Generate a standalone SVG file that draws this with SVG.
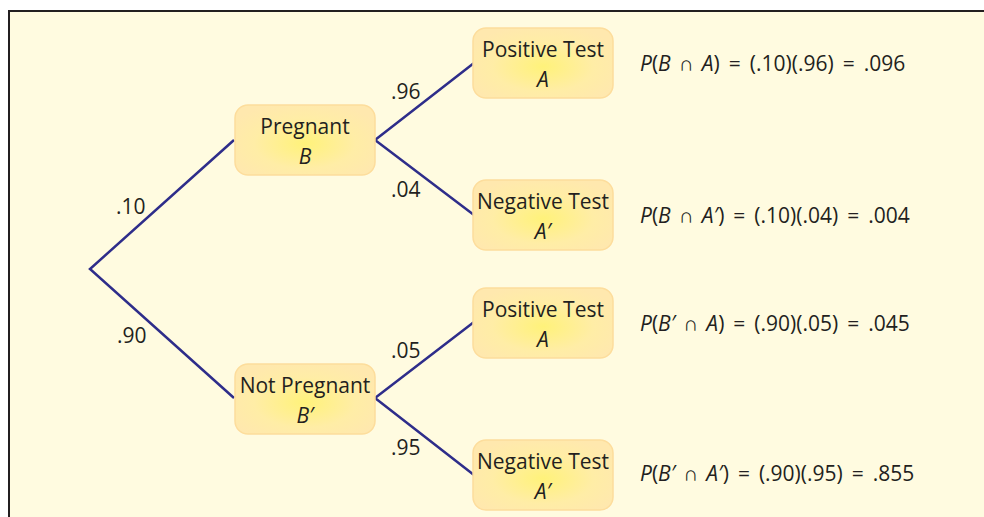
<svg xmlns="http://www.w3.org/2000/svg" width="984" height="517" viewBox="0 0 984 517">
<defs>
<radialGradient id="g" cx="0.5" cy="0.55" r="0.6">
<stop offset="0" stop-color="#FFF27A"/>
<stop offset="0.6" stop-color="#FFEDA6"/>
<stop offset="1" stop-color="#FFE8AE"/>
</radialGradient>
<style>
.box{fill:url(#g);stroke:#FDDD9C;stroke-width:1.5}
.t{font-family:"Open Sans","Noto Sans",sans-serif;font-size:21px;fill:#231F20;text-anchor:middle}
.i{font-style:italic}
.eq{font-family:"Open Sans","Noto Sans",sans-serif;font-size:21px;fill:#231F20}
.lbl{font-family:"Open Sans","Noto Sans",sans-serif;font-size:21px;fill:#231F20}
.c{stroke:#2E2D8A;stroke-width:2.5;fill:none}
</style>
</defs>
<rect x="0" y="0" width="984" height="517" fill="#FFFFFF"/>
<rect x="9" y="11" width="990" height="520" fill="#FFFBE0" stroke="#231F20" stroke-width="2"/>
<g id="connectors">
<polyline class="c" points="234,140 90,269 234,398"/>
<polyline class="c" points="474,63 375,140 474,215"/>
<polyline class="c" points="474,322 375,398 474,475"/>
<text class="lbl" x="116" y="214">.10</text>
<text class="lbl" x="117" y="343">.90</text>
<text class="lbl" x="391" y="99">.96</text>
<text class="lbl" x="391" y="197">.04</text>
<text class="lbl" x="391" y="358">.05</text>
<text class="lbl" x="391" y="455">.95</text>
</g>
<g id="pregnant">
<rect class="box" x="235" y="105" width="140" height="70" rx="13"/>
<text class="t" x="305" y="134">Pregnant</text>
<text class="t i" x="305" y="164">B</text>
</g>
<g id="notpregnant">
<rect class="box" x="235" y="364" width="140" height="70" rx="13"/>
<text class="t" x="305" y="393">Not Pregnant</text>
<text class="t i" x="305" y="423">B′</text>
</g>
<g id="pos1">
<rect class="box" x="473" y="28" width="140" height="70" rx="13"/>
<text class="t" x="543" y="57">Positive Test</text>
<text class="t i" x="543" y="87">A</text>
</g>
<g id="neg1">
<rect class="box" x="473" y="180" width="140" height="70" rx="13"/>
<text class="t" x="543" y="209">Negative Test</text>
<text class="t i" x="543" y="239">A′</text>
</g>
<g id="pos2">
<rect class="box" x="473" y="288" width="140" height="70" rx="13"/>
<text class="t" x="543" y="317">Positive Test</text>
<text class="t i" x="543" y="347">A</text>
</g>
<g id="neg2">
<rect class="box" x="473" y="440" width="140" height="70" rx="13"/>
<text class="t" x="543" y="469">Negative Test</text>
<text class="t i" x="543" y="499">A′</text>
</g>
<g id="equations">
<text class="eq" x="640" y="71"><tspan class="i">P</tspan>(<tspan class="i">B</tspan><tspan dx="8">∩</tspan><tspan dx="8" class="i">A</tspan>)<tspan dx="9">=</tspan><tspan dx="9">(.10)(.96)</tspan><tspan dx="9">=</tspan><tspan dx="9">.096</tspan></text>
<text class="eq" x="640" y="223"><tspan class="i">P</tspan>(<tspan class="i">B</tspan><tspan dx="8">∩</tspan><tspan dx="8" class="i">A′</tspan>)<tspan dx="9">=</tspan><tspan dx="9">(.10)(.04)</tspan><tspan dx="9">=</tspan><tspan dx="9">.004</tspan></text>
<text class="eq" x="640" y="331"><tspan class="i">P</tspan>(<tspan class="i">B′</tspan><tspan dx="8">∩</tspan><tspan dx="8" class="i">A</tspan>)<tspan dx="9">=</tspan><tspan dx="9">(.90)(.05)</tspan><tspan dx="9">=</tspan><tspan dx="9">.045</tspan></text>
<text class="eq" x="640" y="481"><tspan class="i">P</tspan>(<tspan class="i">B′</tspan><tspan dx="8">∩</tspan><tspan dx="8" class="i">A′</tspan>)<tspan dx="9">=</tspan><tspan dx="9">(.90)(.95)</tspan><tspan dx="9">=</tspan><tspan dx="9">.855</tspan></text>
</g>
</svg>
